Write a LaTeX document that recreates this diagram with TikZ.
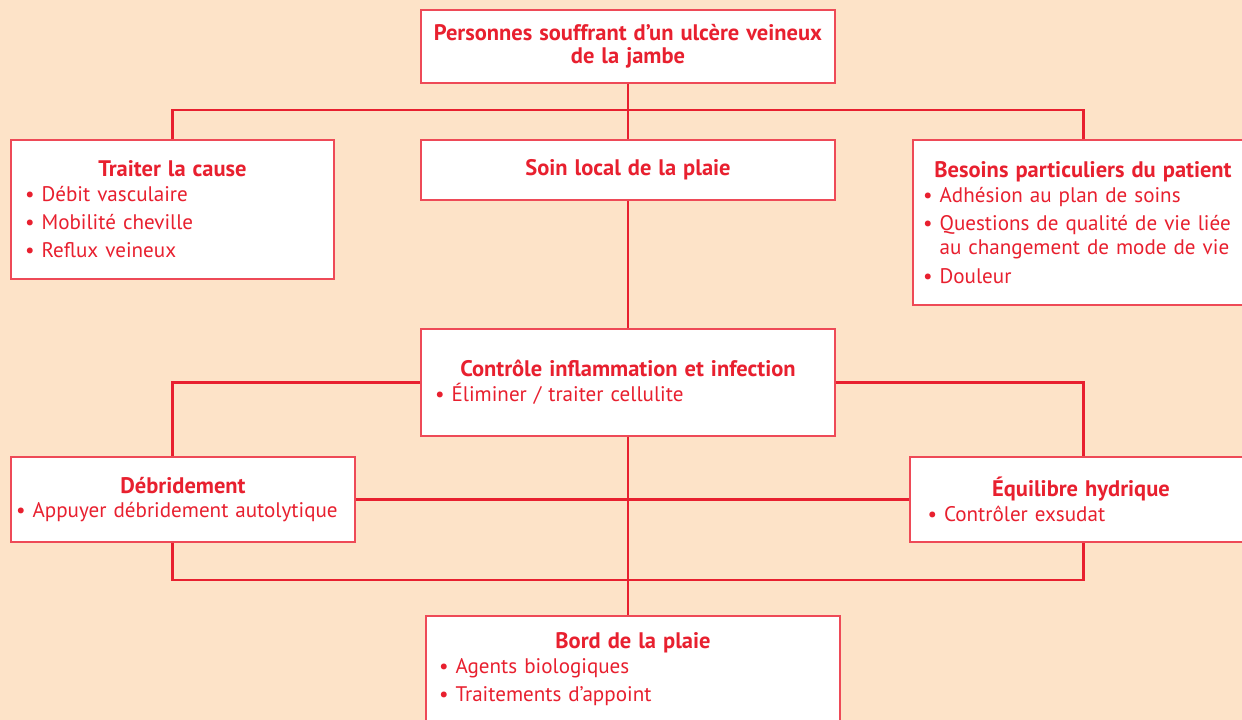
\documentclass[tikz,border=0pt]{standalone}
\usepackage{fontspec}
\setmainfont{PT Sans}
\usepackage{tikz}
\definecolor{rouge}{HTML}{E8202F}
\definecolor{bordure}{HTML}{EE4A57}
\definecolor{fond}{HTML}{FDE3C8}
\def\titre#1{\makebox[\linewidth][c]{\fontsize{12.8}{14}\selectfont\bfseries #1}}% titre centre dans la boite
\def\puce{\textbullet~}
\tikzset{
  boite/.style={draw=bordure, line width=0.8pt, fill=white, text=rouge, font=\fontsize{12}{14}\selectfont,
    inner sep=0pt, align=left},
  lien/.style={draw=rouge, line width=1.7pt}
}
\begin{document}
\begin{tikzpicture}[x=0.02cm,y=-0.02cm]
	\useasboundingbox (0,0) rectangle (1242,720);
	\fill[fond] (0,0) rectangle (1242,720);
	%
	\coordinate (jonction) at (628,110);
	\coordinate (bas) at (628,580);
	%
	\node[boite, minimum width=8.28cm, minimum height=1.46cm, text width=7.9cm] (patient) at (628,46.5)
		{\titre{Personnes souffrant d’un ulcère veineux}\\[-1pt] \titre{de la jambe}};
	\node[boite, minimum width=6.46cm, minimum height=2.78cm, text width=5.9cm] (cause) at (172.5,209.5)
		{\titre{Traiter la cause}\\ \puce Débit vasculaire\\[2pt] \puce Mobilité cheville\\[2pt] \puce Reflux veineux};
	\node[boite, minimum width=8.28cm, minimum height=1.2cm, text width=7.9cm] (soin) at (628,170)
		{\titre{Soin local de la plaie}};
	\node[boite, minimum width=6.8cm, minimum height=3.3cm, text width=6.4cm] (besoins) at (1083,222.5)
		{\titre{Besoins particuliers du patient}\\ \puce Adhésion au plan de soins\\[2pt]
		 \puce Questions de qualité de vie liée\\ \phantom{\puce}au changement de mode de vie\\[2pt] \puce Douleur};
	\node[boite, minimum width=8.28cm, minimum height=2.14cm, text width=7.72cm] (controle) at (628,382.5)
		{\titre{Contrôle inflammation et infection}\\ \puce Éliminer / traiter cellulite};
	\node[boite, minimum width=6.88cm, minimum height=1.7cm, text width=6.68cm] (debrid) at (183,499.5)
		{\titre{Débridement}\\ \puce Appuyer débridement autolytique};
	\node[boite, minimum width=6.84cm, minimum height=1.7cm, text width=6.14cm] (equilibre) at (1081,499.5)
		{\titre{Équilibre hydrique}\\ \puce Contrôler exsudat};
	\node[boite, minimum width=8.28cm, minimum height=2.12cm, text width=7.76cm] (bord) at (633,669)
		{\titre{Bord de la plaie}\\ \puce Agents biologiques\\[2pt] \puce Traitements d’appoint};
	%
	\draw[lien] (patient.south) -- (soin.north);
	\draw[lien] (cause.north) |- (jonction) -| (besoins.north);
	\draw[lien] (soin.south) -- (controle.north);
	\draw[lien] (controle.west) -| (cause.north |- debrid.north);
	\draw[lien] (controle.east) -| (besoins.north |- equilibre.north);
	\draw[lien] (debrid.east) -- (equilibre.west);
	\draw[lien] (controle.south) -- (controle.south |- bord.north);
	\draw[lien] (cause.north |- debrid.south) |- (bas) -| (besoins.north |- equilibre.south);
\end{tikzpicture}
\end{document}
